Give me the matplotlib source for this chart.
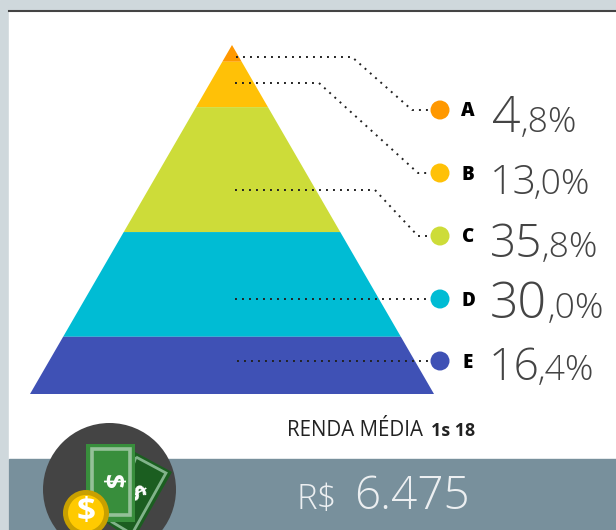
import numpy as np
import matplotlib
matplotlib.use('Agg')
import matplotlib.pyplot as plt
from matplotlib.patches import Polygon, Circle, Rectangle

labels = ['A', 'B', 'C', 'D', 'E']
shares = [4.8, 13.0, 35.8, 30.0, 16.4]
big_part = ['4', '13', '35', '30', '16']
small_part = [',8%', ',0%', ',8%', ',0%', ',4%']
colors = ['#FF9800', '#FFC107', '#CDDC39', '#00BCD4', '#3F51B5']

W, H = 616, 530
fig = plt.figure(figsize=(W / 100, H / 100), dpi=100)
ax = fig.add_axes([0, 0, 1, 1])
ax.set_xlim(0, W)
ax.set_ylim(H, 0)
ax.axis('off')
fnt = 'Open Sans'

# fundo
ax.add_patch(Rectangle((0, 0), W, H, color='#CFD8DC', zorder=0))
ax.add_patch(Rectangle((9, 11), W, H, color='white', zorder=0))
ax.plot([9, W], [10.5, 10.5], color='#444444', lw=1.5, zorder=1)
ax.add_patch(Rectangle((9, 459), W, H, color='#78909C', zorder=1))

# piramide
apex_x, apex_y, base_y, half = 232, 45, 394, 202
edges = apex_y + np.concatenate([[0], np.cumsum(shares)]) / sum(shares) * (base_y - apex_y)
for i in range(len(shares)):
    y0, y1 = edges[i], edges[i + 1]
    w0 = half * (y0 - apex_y) / (base_y - apex_y)
    w1 = half * (y1 - apex_y) / (base_y - apex_y)
    ax.add_patch(Polygon([(apex_x - w0, y0), (apex_x + w0, y0), (apex_x + w1, y1), (apex_x - w1, y1)],
                         color=colors[i], lw=0, zorder=2))

# ligacoes
dot_y = [110, 173, 236, 299, 361]
line_y = [57, 83, 190, 299, 361]
line_x0 = [236, 235, 235, 235, 237]
line_x1 = [352, 319, 375, 375, 375]
bend_x = [412, 418, 418, 400, 400]
for i in range(5):
    xs = [line_x0[i], line_x1[i], bend_x[i], 429]
    ys = [line_y[i], line_y[i], dot_y[i], dot_y[i]]
    ax.plot(xs, ys, color='#222222', lw=1.4, ls=(0, (1, 2.6)), zorder=3)
    ax.add_patch(Circle((440, dot_y[i]), 9.5, color=colors[i], lw=0, zorder=4))
    ax.text(468, dot_y[i] + 1.5, labels[i], family=fnt, fontweight='heavy', fontsize=13.5,
            ha='center', va='center', color='black', zorder=4)

big_x = [492, 490, 490, 490, 489]
big_size = [36, 29.5, 33, 36, 32]
small_x = [521, 534, 542, 548, 538]
base = [132, 194, 257, 318, 380]
for i in range(5):
    ax.text(big_x[i], base[i], big_part[i], family=fnt, fontweight='light', fontsize=big_size[i],
            color='#444444', va='baseline', ha='left', zorder=4)
    ax.text(small_x[i], base[i], small_part[i], family=fnt, fontweight='light', fontsize=25.5,
            color='#444444', va='baseline', ha='left', zorder=4)

# renda media
ax.text(287, 436, 'RENDA MÉDIA', family=fnt, fontsize=14.8, color='#222222', va='baseline')
ax.text(431, 436, '1s 18', family=fnt, fontsize=12.8, fontweight='bold', color='#222222', va='baseline')
ax.text(296, 509, 'R$', family=fnt, fontweight='light', fontsize=25, color='#ECEFF1', va='baseline')
ax.text(354, 509, '6.475', family=fnt, fontweight='light', fontsize=33, color='#ECEFF1', va='baseline')

# icone do dinheiro
ax.add_patch(Circle((109.5, 489.5), 66.5, color='#444444', lw=0, zorder=3))
ax.add_patch(Polygon([(135, 452), (172, 472), (133, 541), (107, 523)], color='#1B5E20', lw=0, zorder=4))
ax.add_patch(Polygon([(136, 457), (166, 473), (132, 534), (112, 522)], closed=True, fill=False,
                     edgecolor='#81B38A', lw=2, zorder=4))
ax.text(134, 494, '$', family=fnt, fontweight='bold', fontsize=18, color='white', rotation=-62,
        ha='center', va='center', zorder=4)
ax.add_patch(Rectangle((86, 444), 49, 78, color='#388E3C', lw=0, zorder=5))
ax.add_patch(Rectangle((92, 449), 37.5, 66, fill=False, edgecolor='#94C198', lw=2.6, zorder=5))
ax.text(110.5, 482, '$', family=fnt, fontweight='bold', fontsize=19, color='white', rotation=-90,
        ha='center', va='center', zorder=5)
ax.add_patch(Circle((86, 513), 23, color='#C8A000', lw=0, zorder=6))
ax.add_patch(Circle((86, 513), 18, color='#FFCA00', lw=0, zorder=6))
ax.text(86, 513, '$', family=fnt, fontweight='bold', fontsize=24, color='white', ha='center', va='center', zorder=7)

fig.savefig('out.png', dpi=100)
